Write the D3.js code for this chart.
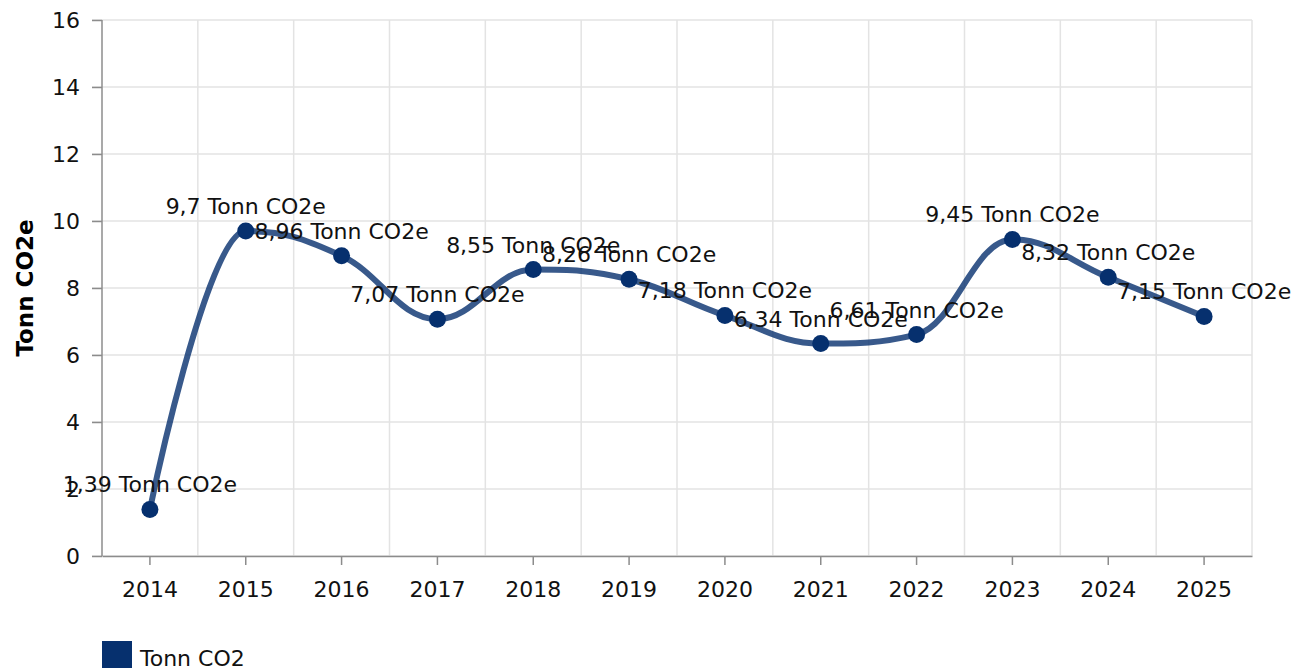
<!DOCTYPE html>
<html>
<head>
<meta charset="utf-8">
<script src="https://cdn.jsdelivr.net/npm/d3@7"></script>
<style>
  body { margin: 0; background: #fff; }
  svg { display: block; font-family: "DejaVu Sans", Verdana, sans-serif; }
  .grid line { stroke: #e3e3e3; stroke-width: 1.5; }
  .axis path, .axis line { stroke: #8c8c8c; stroke-width: 1.5; }
  .axis text { fill: #111; font-size: 22px; font-family: "DejaVu Sans", Verdana, sans-serif; }
</style>
</head>
<body>
<svg id="chart" width="1294" height="668"></svg>
<script>
// data
const years = ['2014', '2015', '2016', '2017', '2018', '2019', '2020', '2021', '2022', '2023', '2024', '2025'];
const tonnCO2 = [1.39, 9.7, 8.96, 7.07, 8.55, 8.26, 7.18, 6.34, 6.61, 9.45, 8.32, 7.15];
const yTicks = [0, 2, 4, 6, 8, 10, 12, 14, 16];
const seriesName = 'Tonn CO2';
const unit = 'Tonn CO2e';

const svg = d3.select('#chart');
const margin = { top: 20, right: 42, bottom: 112, left: 102 };
const W = 1294, H = 668;
const plotW = W - margin.left - margin.right;
const plotH = H - margin.top - margin.bottom;

const x = d3.scaleBand().domain(years).range([0, plotW]);
const y = d3.scaleLinear().domain([0, 16]).range([plotH, 0]);

const plot = svg.append('g').attr('transform', `translate(${margin.left},${margin.top})`);

// grid
const grid = plot.append('g').attr('class', 'grid');
grid.selectAll('line.h').data(yTicks).join('line')
    .attr('class', 'h')
    .attr('x1', -10).attr('x2', plotW)
    .attr('y1', d => y(d)).attr('y2', d => y(d));
grid.selectAll('line.v').data(years).join('line')
    .attr('class', 'v')
    .attr('x1', d => x(d) + x.bandwidth()).attr('x2', d => x(d) + x.bandwidth())
    .attr('y1', 0).attr('y2', plotH);

// axes
plot.append('g').attr('class', 'axis')
    .call(d3.axisLeft(y).tickValues(yTicks).tickSize(10).tickPadding(12).tickSizeOuter(0))
    .call(g => g.select('.domain').attr('d', `M0,0V${plotH}`));
plot.append('g').attr('class', 'axis')
    .attr('transform', `translate(0,${plotH})`)
    .call(d3.axisBottom(x).tickSize(9).tickPadding(16).tickSizeOuter(0));

svg.append('text')
    .attr('transform', `translate(33,${margin.top + plotH / 2}) rotate(-90)`)
    .attr('text-anchor', 'middle')
    .style('font-size', '23px').style('font-weight', 'bold')
    .text(unit);

// spline like the original (smoothing 1.5, no false extremes)
const pts = tonnCO2.map((v, i) => [x(years[i]) + x.bandwidth() / 2, y(v)]);
function splinePath(p) {
    const path = d3.path();
    path.moveTo(p[0][0], p[0][1]);
    const s = 1.5, den = s + 1;
    let prevRight = null;
    for (let i = 1; i < p.length; i++) {
        const [px, py] = p[i], last = p[i - 1], next = p[i + 1];
        let lx = px, ly = py, rx = null, ry = null;
        if (next) {
            lx = (s * px + last[0]) / den; ly = (s * py + last[1]) / den;
            rx = (s * px + next[0]) / den; ry = (s * py + next[1]) / den;
            const corr = (ry - ly) * (rx - px) / (rx - lx) + py - ry;
            ly += corr; ry += corr;
            if (ly > last[1] && ly > py) { ly = Math.max(last[1], py); ry = 2 * py - ly; }
            else if (ly < last[1] && ly < py) { ly = Math.min(last[1], py); ry = 2 * py - ly; }
            if (ry > next[1] && ry > py) { ry = Math.max(next[1], py); ly = 2 * py - ry; }
            else if (ry < next[1] && ry < py) { ry = Math.min(next[1], py); ly = 2 * py - ry; }
        }
        const c1 = prevRight || last;
        path.bezierCurveTo(c1[0], c1[1], lx, ly, px, py);
        prevRight = rx === null ? null : [rx, ry];
    }
    return path.toString();
}

plot.append('path')
    .attr('d', splinePath(pts))
    .attr('fill', 'none')
    .attr('stroke', '#06306e').attr('stroke-opacity', 0.8)
    .attr('stroke-width', 6).attr('stroke-linecap', 'round');

plot.selectAll('circle.pt').data(tonnCO2).join('circle')
    .attr('class', 'pt')
    .attr('cx', (d, i) => x(years[i]) + x.bandwidth() / 2)
    .attr('cy', d => y(d))
    .attr('r', 8.5)
    .attr('fill', '#06306e');

plot.selectAll('text.lbl').data(tonnCO2).join('text')
    .attr('class', 'lbl')
    .attr('x', (d, i) => x(years[i]) + x.bandwidth() / 2)
    .attr('y', d => y(d) - 17)
    .attr('text-anchor', 'middle')
    .style('font-size', '22px').attr('fill', '#111')
    .text(d => String(d).replace('.', ',') + ' ' + unit);

// legend
const legend = svg.append('g').attr('transform', `translate(${margin.left},641)`);
legend.append('rect').attr('width', 30).attr('height', 30).attr('fill', '#06306e');
legend.append('text').attr('x', 38).attr('y', 25)
    .style('font-size', '22px').attr('fill', '#111')
    .text(seriesName);
</script>
</body>
</html>
